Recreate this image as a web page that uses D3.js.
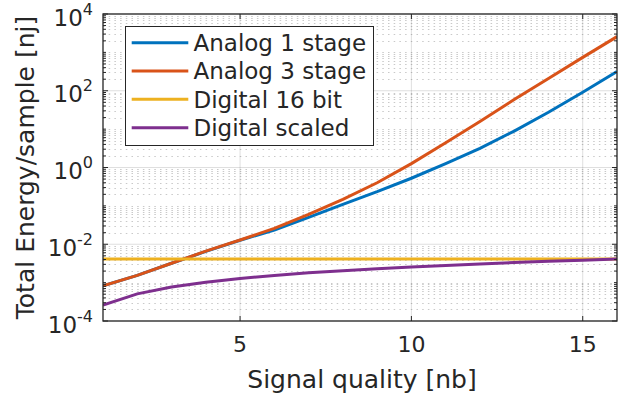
<!DOCTYPE html>
<html>
<head>
<meta charset="utf-8">
<script src="https://cdn.jsdelivr.net/npm/d3@7"></script>
<style>
  body { margin: 0; background: #fff; }
  text { font-family: "DejaVu Sans", sans-serif; fill: #262626; }
</style>
</head>
<body>
<div id="chart"></div>
<script>
// signal quality (bits)
let nb = [1, 2, 3, 4, 5, 6, 7, 8, 9, 10, 11, 12, 13, 14, 15, 16];

// energy per sample [nJ]
let analog1 = [8.2e-4, 1.55e-3, 3.2e-3, 6.5e-3, 1.27e-2, 2.35e-2, 5.0e-2, 0.11, 0.234, 0.525, 1.26, 3.16, 8.9, 27.5, 91, 316];
let analog3 = [8.2e-4, 1.55e-3, 3.2e-3, 6.6e-3, 1.29e-2, 2.6e-2, 6.0e-2, 0.148, 0.40, 1.26, 4.4, 15.8, 59, 209, 741, 2570];
let digital16 = [4.1e-3, 4.1e-3, 4.1e-3, 4.1e-3, 4.1e-3, 4.1e-3, 4.1e-3, 4.1e-3, 4.1e-3, 4.1e-3, 4.1e-3, 4.1e-3, 4.1e-3, 4.1e-3, 4.1e-3, 4.1e-3];
let digitalScaled = [2.6e-4, 5.1e-4, 7.7e-4, 1.02e-3, 1.28e-3, 1.54e-3, 1.8e-3, 2.05e-3, 2.3e-3, 2.56e-3, 2.8e-3, 3.08e-3, 3.33e-3, 3.6e-3, 3.85e-3, 4.1e-3];

let seriesNames = ["Analog 1 stage", "Analog 3 stage", "Digital 16 bit", "Digital scaled"];
let seriesColors = ["#0072BD", "#D95319", "#EDB120", "#7E2F8E"];

let xTicks = [5, 10, 15];
let yTickExps = [-4, -2, 0, 2, 4];

let width = 630, height = 401;
let pLeft = 103, pRight = 617, pTop = 14, pBottom = 321;

let svg = d3.select("#chart").append("svg").attr("width", width).attr("height", height);

let x = d3.scaleLinear().domain([1, 16]).range([pLeft, pRight]);
let y = d3.scaleLog().domain([1e-4, 1e4]).range([pBottom, pTop]);

// minor y values 2..9 x 10^k plus odd decades
let minorY = [];
for (let k = -4; k < 4; k++) {
    for (let m = 1; m <= 9; m++) {
        let v = m * Math.pow(10, k);
        if (m === 1 && yTickExps.includes(k)) continue;
        minorY.push(v);
    }
}

// grid
svg.append("g").selectAll("line").data(minorY).enter().append("line")
    .attr("x1", pLeft).attr("x2", pRight)
    .attr("y1", d => Math.round(y(d)) + 0.5).attr("y2", d => Math.round(y(d)) + 0.5)
    .attr("stroke", "#262626").attr("stroke-opacity", 0.25)
    .attr("stroke-dasharray", "1.5,4.2");

svg.append("g").selectAll("line").data(yTickExps).enter().append("line")
    .attr("x1", pLeft).attr("x2", pRight)
    .attr("y1", d => y(Math.pow(10, d))).attr("y2", d => y(Math.pow(10, d)))
    .attr("stroke", "#262626").attr("stroke-opacity", 0.15);

svg.append("g").selectAll("line").data(xTicks).enter().append("line")
    .attr("x1", d => x(d)).attr("x2", d => x(d))
    .attr("y1", pTop).attr("y2", pBottom)
    .attr("stroke", "#262626").attr("stroke-opacity", 0.15);

// data lines
let allSeries = [analog1, analog3, digital16, digitalScaled];
let line = d3.line().x((d, i) => x(nb[i])).y(d => y(d));

svg.append("defs").append("clipPath").attr("id", "clip")
    .append("rect").attr("x", pLeft).attr("y", pTop).attr("width", pRight - pLeft).attr("height", pBottom - pTop);

svg.append("g").attr("clip-path", "url(#clip)").selectAll("path").data(allSeries).enter().append("path")
    .attr("d", d => line(d))
    .attr("fill", "none")
    .attr("stroke", (d, i) => seriesColors[i])
    .attr("stroke-width", 3);

// box
svg.append("rect")
    .attr("x", pLeft).attr("y", pTop).attr("width", pRight - pLeft).attr("height", pBottom - pTop)
    .attr("fill", "none").attr("stroke", "#262626").attr("stroke-width", 1.3);

// ticks
let ticks = svg.append("g").attr("stroke", "#262626").attr("stroke-width", 1);
xTicks.forEach(t => {
    ticks.append("line").attr("x1", x(t)).attr("x2", x(t)).attr("y1", pBottom).attr("y2", pBottom - 5);
    ticks.append("line").attr("x1", x(t)).attr("x2", x(t)).attr("y1", pTop).attr("y2", pTop + 5);
});
yTickExps.forEach(e => {
    let yy = y(Math.pow(10, e));
    ticks.append("line").attr("x1", pLeft).attr("x2", pLeft + 5).attr("y1", yy).attr("y2", yy);
    ticks.append("line").attr("x1", pRight).attr("x2", pRight - 5).attr("y1", yy).attr("y2", yy);
});
minorY.forEach(v => {
    let yy = y(v);
    ticks.append("line").attr("x1", pLeft).attr("x2", pLeft + 3).attr("y1", yy).attr("y2", yy);
    ticks.append("line").attr("x1", pRight).attr("x2", pRight - 3).attr("y1", yy).attr("y2", yy);
});

// tick labels
svg.append("g").selectAll("text").data(xTicks).enter().append("text")
    .attr("x", d => x(d)).attr("y", 352)
    .attr("text-anchor", "middle")
    .attr("font-size", 22)
    .text(d => d);

yTickExps.forEach(e => {
    let yy = y(Math.pow(10, e));
    let t = svg.append("text")
        .attr("x", 93).attr("y", yy + 11.5)
        .attr("text-anchor", "end")
        .attr("font-size", 23);
    t.append("tspan").text("10");
    t.append("tspan").attr("font-size", 16).attr("dy", -11).text(e);
});

// axis labels
svg.append("text")
    .attr("x", (pLeft + pRight) / 2 + 2).attr("y", 388)
    .attr("text-anchor", "middle")
    .attr("font-size", 25)
    .text("Signal quality [nb]");

svg.append("text")
    .attr("transform", `translate(34,${(pTop + pBottom) / 2}) rotate(-90)`)
    .attr("text-anchor", "middle")
    .attr("font-size", 25)
    .text("Total Energy/sample [nj]");

// legend
let legend = svg.append("g");
legend.append("rect")
    .attr("x", 125.5).attr("y", 26.5).attr("width", 248).attr("height", 119)
    .attr("fill", "#fff").attr("stroke", "#262626").attr("stroke-width", 1);

seriesNames.forEach((name, i) => {
    let ly = 42.7 + i * 28.33;
    legend.append("line")
        .attr("x1", 131.7).attr("x2", 188.3).attr("y1", ly).attr("y2", ly)
        .attr("stroke", seriesColors[i]).attr("stroke-width", 3);
    legend.append("text")
        .attr("x", 193.5).attr("y", ly + 8.3)
        .attr("font-size", 23)
        .text(name);
});
</script>
</body>
</html>
